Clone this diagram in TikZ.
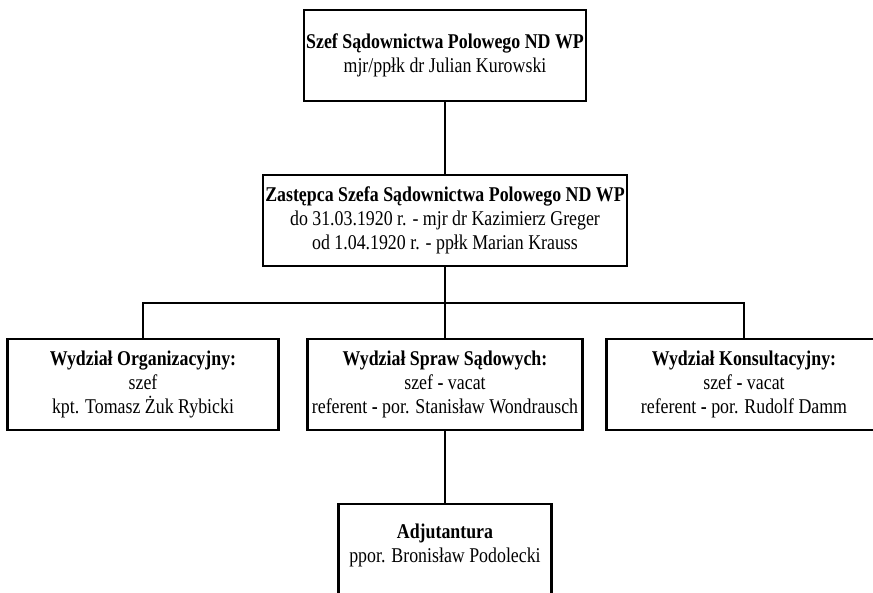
\documentclass[tikz,border=0pt]{standalone}
\usepackage{fontspec}
\setmainfont{Liberation Serif}[FakeStretch=0.85]
\usepackage{tikz}
\usetikzlibrary{positioning}
\tikzset{
  unitbox/.style={draw=black,line width=2.4pt,fill=white,align=center,outer sep=0pt,
              minimum height=91pt,inner sep=2pt,font=\fontsize{21}{24}\selectfont},
  link/.style={line width=2.4pt,draw=black}
}

\begin{document}
\begin{tikzpicture}[node distance=74pt and 29pt]
  \useasboundingbox (0,0) rectangle (873pt,-592pt);
  \node[unitbox,minimum width=274pt] (chief) at (445pt,-55.5pt)
    {\textbf{Szef Sądownictwa Polowego ND WP}\\mjr/ppłk dr Julian Kurowski};
  \node[unitbox,below=of chief,minimum width=358pt] (deputy)
    {\textbf{Zastępca Szefa Sądownictwa Polowego ND WP}\\do 31.03.1920 r. - mjr dr Kazimierz Greger\\od 1.04.1920 r. - ppłk Marian Krauss};
  \node[unitbox,below=73pt of deputy,minimum width=275pt] (spraw)
    {\textbf{Wydział Spraw Sądowych:}\\szef \textbf{-} vacat\\referent \textbf{-} por. Stanisław Wondrausch};
  \node[unitbox,left=of spraw,minimum width=271pt] (org)
    {\textbf{Wydział Organizacyjny:}\\szef\\kpt. Tomasz Żuk Rybicki};
  \node[unitbox,right=24pt of spraw,minimum width=275pt] (konsult)
    {\textbf{Wydział Konsultacyjny:}\\szef \textbf{-} vacat\\referent \textbf{-} por. Rudolf Damm};
  \node[unitbox,below=of spraw,minimum width=213pt,minimum height=100pt] (adjut)
    {\textbf{Adjutantura}\\ppor. Bronisław Podolecki\\[-2pt]};
  \coordinate[below=37pt of deputy] (bus);

  \draw[link] (chief) -- (deputy);
  \draw[link] (deputy) -- (spraw);
  \draw[link] (spraw) -- (adjut);
  \draw[link] (org.north) |- (bus) -| (konsult.north);
\end{tikzpicture}
\end{document}
